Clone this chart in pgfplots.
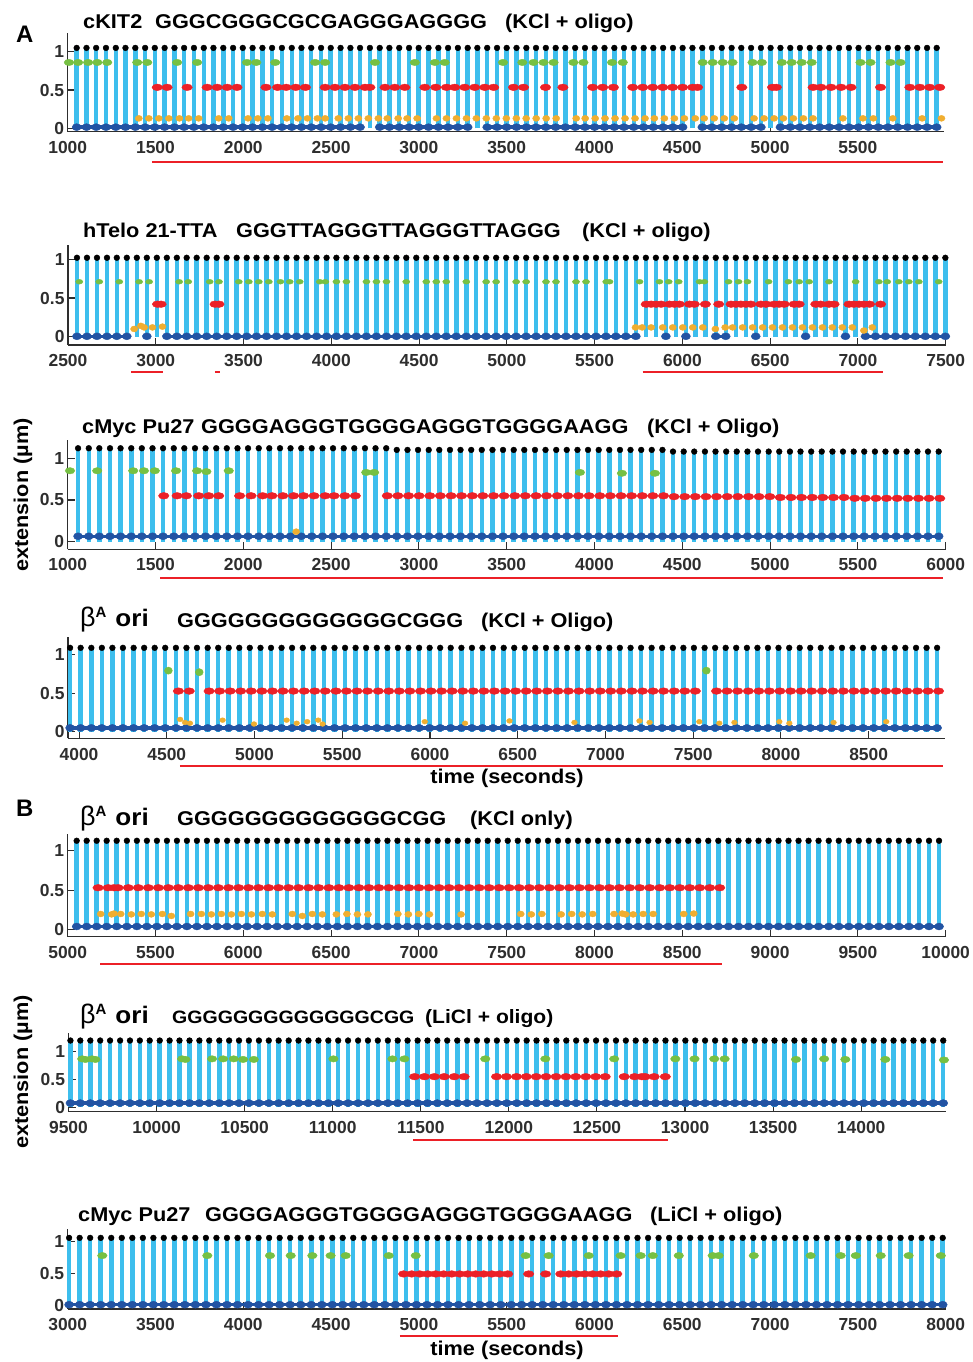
\documentclass[border=0pt]{standalone}
\usepackage{fontspec}
\setmainfont{Liberation Sans}
\newfontfamily\tfont[FakeStretch=1.09]{Liberation Sans}
\usepackage{pgfplots}
\usepackage{pgfplotstable}
\pgfplotsset{compat=1.18}
\definecolor{cy}{HTML}{3DBEED}
\definecolor{dbl}{HTML}{2253A3}
\definecolor{grn}{HTML}{76C043}
\definecolor{rd}{HTML}{EC2027}
\definecolor{org}{HTML}{F0AE30}
\definecolor{axc}{HTML}{2E2E2E}
\newcommand\TT{\tfont\bfseries\fontsize{20}{24}\selectfont}
\newcommand\BA{{\fontsize{27}{27}\selectfont β}\raisebox{9bp}{\bfseries\fontsize{15}{15}\selectfont A}\hspace{9bp}{\tfont\bfseries\fontsize{24}{24}\selectfont ori}}
\pgfplotsset{
  panel/.style={
    scale only axis, clip=false, anchor=south west,
    axis x line*=bottom, axis y line*=left,
    axis line style={axc, line width=1.1bp},
    tick align=inside, major tick length=7bp,
    tick style={axc, line width=1.1bp},
    ytick={0,0.5,1}, yticklabels={0,0.5,1},
    scaled x ticks=false,
    tick label style={font=\bfseries\fontsize{17.5}{17.5}\selectfont, text=axc},
    /pgf/number format/1000 sep={},
    /pgf/number format/assume math mode=true,
    xticklabel style={yshift=-6bp},
    unbounded coords=jump,
  },
  bars/.style={ycomb, draw=cy, line width=4.5bp, mark=none},
  band/.style={draw=dbl, line width=3.5bp, mark=none},
  bdots/.style={only marks, mark=*, color=dbl, mark size=3.5bp, mark options={xscale=1.3}},
  kdots/.style={only marks, mark=*, color=black, mark size=2.9bp},
  gdots/.style={only marks, mark=*, color=grn, mark size=3.2bp, mark options={xscale=1.5}},
  rdots/.style={only marks, mark=*, color=rd, mark size=3.3bp, mark options={xscale=1.6}},
  odots/.style={only marks, mark=*, color=org, mark size=3.0bp, mark options={xscale=1.2}},
  uline/.style={draw=rd, line width=1.6bp, mark=none},
}

\pgfplotstableread[row sep=\\]{t a b\\
1051 1.05 0.015\\ 1107 1.05 0.015\\ 1162 1.05 0.015\\ 1218 1.05 0.015\\ 1274 1.05 0.015\\ 1329 1.05 0.015\\
1385 1.05 0.015\\ 1441 1.05 0.015\\ 1496 1.05 0.015\\ 1552 1.05 0.015\\ 1608 1.05 0.015\\ 1663 1.05 0.015\\
1719 1.05 0.015\\ 1775 1.05 0.015\\ 1830 1.05 0.015\\ 1886 1.05 0.015\\ 1942 1.05 0.015\\ 1997 1.05 0.015\\
2053 1.05 0.015\\ 2109 1.05 0.015\\ 2164 1.05 0.015\\ 2220 1.05 0.015\\ 2276 1.05 0.015\\ 2331 1.05 0.015\\
2387 1.05 0.015\\ 2443 1.05 0.015\\ 2498 1.05 0.015\\ 2554 1.05 0.015\\ 2610 1.05 0.015\\ 2665 1.05 0.015\\
2721 1.05 nan\\ 2777 1.05 0.015\\ 2832 1.05 0.015\\ 2888 1.05 0.015\\ 2944 1.05 0.015\\ 2999 1.05 0.015\\
3055 1.05 0.015\\ 3111 1.05 0.015\\ 3166 1.05 0.015\\ 3222 1.05 0.015\\ 3278 1.05 0.015\\ 3333 1.05 nan\\
3389 1.05 0.015\\ 3445 1.05 0.015\\ 3500 1.05 0.015\\ 3556 1.05 0.015\\ 3612 1.05 0.015\\ 3667 1.05 0.015\\
3723 1.05 0.015\\ 3779 1.05 0.015\\ 3834 1.05 0.015\\ 3890 1.05 0.015\\ 3946 1.05 0.015\\ 4001 1.05 0.015\\
4057 1.05 0.015\\ 4113 1.05 0.015\\ 4168 1.05 0.015\\ 4224 1.05 0.015\\ 4280 1.05 0.015\\ 4335 1.05 0.015\\
4391 1.05 0.015\\ 4447 1.05 0.015\\ 4502 1.05 0.015\\ 4558 1.05 nan\\ 4614 1.05 0.015\\ 4669 1.05 0.015\\
4725 1.05 0.015\\ 4781 1.05 0.015\\ 4836 1.05 0.015\\ 4892 1.05 0.015\\ 4948 1.05 0.015\\ 5003 1.05 nan\\
5059 1.05 0.015\\ 5115 1.05 0.015\\ 5170 1.05 0.015\\ 5226 1.05 0.015\\ 5282 1.05 0.015\\ 5337 1.05 0.015\\
5393 1.05 0.015\\ 5449 1.05 0.015\\ 5504 1.05 0.015\\ 5560 1.05 0.015\\ 5616 1.05 0.015\\ 5671 1.05 0.015\\
5727 1.05 0.015\\ 5783 1.05 0.015\\ 5838 1.05 0.015\\ 5894 1.05 0.015\\ 5949 1.05 0.015\\
}\Pone

\pgfplotstableread[row sep=\\]{t a b\\
2551 1.02 0.005\\ 2608 1.02 0.005\\ 2665 1.02 0.005\\ 2722 1.02 0.005\\ 2778 1.02 0.005\\ 2835 1.02 0.005\\
2892 1.02 nan\\ 2949 1.02 0.005\\ 3006 1.02 nan\\ 3063 1.02 0.005\\ 3120 1.02 0.005\\ 3176 1.02 0.005\\
3233 1.02 0.005\\ 3290 1.02 0.005\\ 3347 1.02 0.005\\ 3404 1.02 0.005\\ 3461 1.02 0.005\\ 3518 1.02 0.005\\
3574 1.02 0.005\\ 3631 1.02 0.005\\ 3688 1.02 0.005\\ 3745 1.02 0.005\\ 3802 1.02 0.005\\ 3859 1.02 0.005\\
3916 1.02 0.005\\ 3973 1.02 0.005\\ 4029 1.02 0.005\\ 4086 1.02 0.005\\ 4143 1.02 0.005\\ 4200 1.02 0.005\\
4257 1.02 0.005\\ 4314 1.02 0.005\\ 4371 1.02 0.005\\ 4427 1.02 0.005\\ 4484 1.02 0.005\\ 4541 1.02 0.005\\
4598 1.02 0.005\\ 4655 1.02 0.005\\ 4712 1.02 0.005\\ 4769 1.02 0.005\\ 4825 1.02 0.005\\ 4882 1.02 0.005\\
4939 1.02 0.005\\ 4996 1.02 0.005\\ 5053 1.02 0.005\\ 5110 1.02 0.005\\ 5167 1.02 0.005\\ 5223 1.02 0.005\\
5280 1.02 0.005\\ 5337 1.02 0.005\\ 5394 1.02 0.005\\ 5451 1.02 0.005\\ 5508 1.02 0.005\\ 5565 1.02 0.005\\
5621 1.02 0.005\\ 5678 1.02 0.005\\ 5735 1.02 0.005\\ 5792 1.02 nan\\ 5849 1.02 nan\\ 5906 1.02 0.005\\
5963 1.02 nan\\ 6020 1.02 0.005\\ 6076 1.02 nan\\ 6133 1.02 nan\\ 6190 1.02 0.005\\ 6247 1.02 0.005\\
6304 1.02 nan\\ 6361 1.02 nan\\ 6418 1.02 0.005\\ 6474 1.02 nan\\ 6531 1.02 nan\\ 6588 1.02 nan\\
6645 1.02 nan\\ 6702 1.02 0.005\\ 6759 1.02 nan\\ 6816 1.02 nan\\ 6873 1.02 nan\\ 6929 1.02 0.005\\
6986 1.02 nan\\ 7043 1.02 0.005\\ 7100 1.02 0.005\\ 7157 1.02 0.005\\ 7214 1.02 0.005\\ 7271 1.02 0.005\\
7327 1.02 0.005\\ 7384 1.02 0.005\\ 7441 1.02 0.005\\ 7498 1.02 0.005\\
}\Ptwo

\pgfplotstableread[row sep=\\]{t a b\\
1059 1.12 0.065\\ 1120 1.12 0.065\\ 1180 1.12 0.065\\ 1241 1.12 0.065\\ 1301 1.12 0.065\\ 1362 1.12 0.065\\
1422 1.12 0.065\\ 1483 1.12 0.065\\ 1543 1.12 0.065\\ 1604 1.12 0.065\\ 1664 1.12 0.065\\ 1725 1.12 0.065\\
1785 1.12 0.065\\ 1846 1.12 0.065\\ 1906 1.12 0.065\\ 1967 1.12 0.065\\ 2027 1.12 0.065\\ 2088 1.12 0.065\\
2148 1.12 0.065\\ 2209 1.12 0.065\\ 2269 1.12 0.065\\ 2330 1.12 0.065\\ 2390 1.12 0.065\\ 2451 1.12 0.065\\
2511 1.12 0.065\\ 2572 1.12 0.065\\ 2632 1.12 0.065\\ 2693 1.12 0.065\\ 2753 1.12 0.065\\ 2814 1.12 0.065\\
2874 1.10 0.065\\ 2935 1.10 0.065\\ 2995 1.10 0.065\\ 3056 1.10 0.065\\ 3116 1.10 0.065\\ 3177 1.10 0.065\\
3237 1.10 0.065\\ 3298 1.10 0.065\\ 3358 1.10 0.065\\ 3419 1.10 0.065\\ 3479 1.10 0.065\\ 3540 1.10 0.065\\
3600 1.10 0.065\\ 3661 1.10 0.065\\ 3721 1.10 0.065\\ 3782 1.10 0.065\\ 3842 1.10 0.065\\ 3903 1.10 0.065\\
3963 1.10 0.065\\ 4024 1.10 0.065\\ 4084 1.10 0.065\\ 4145 1.10 0.065\\ 4205 1.10 0.065\\ 4266 1.10 0.065\\
4326 1.10 0.065\\ 4387 1.10 0.065\\ 4447 1.08 0.065\\ 4508 1.08 0.065\\ 4568 1.08 0.065\\ 4629 1.08 0.065\\
4689 1.08 0.065\\ 4750 1.08 0.065\\ 4810 1.08 0.065\\ 4871 1.08 0.065\\ 4931 1.08 0.065\\ 4992 1.08 0.065\\
5052 1.08 0.065\\ 5113 1.08 0.065\\ 5173 1.08 0.065\\ 5234 1.08 0.065\\ 5294 1.08 0.065\\ 5355 1.08 0.065\\
5415 1.08 0.065\\ 5476 1.08 0.065\\ 5536 1.08 0.065\\ 5597 1.08 0.065\\ 5657 1.08 0.065\\ 5718 1.08 0.065\\
5778 1.08 0.065\\ 5839 1.08 0.065\\ 5899 1.08 0.065\\ 5960 1.08 0.065\\
}\Pthree

\pgfplotstableread[row sep=\\]{t a b\\
3949 1.085 0.05\\ 4009 1.085 0.05\\ 4070 1.085 0.05\\ 4130 1.085 0.05\\ 4190 1.085 0.05\\ 4250 1.085 0.05\\
4311 1.085 0.05\\ 4371 1.085 0.05\\ 4431 1.085 0.05\\ 4491 1.085 0.05\\ 4552 1.085 0.05\\ 4612 1.085 0.05\\
4672 1.085 0.05\\ 4733 1.085 0.05\\ 4793 1.085 0.05\\ 4853 1.085 0.05\\ 4913 1.085 0.05\\ 4973 1.085 0.05\\
5034 1.085 0.05\\ 5094 1.085 0.05\\ 5154 1.085 0.05\\ 5214 1.085 0.05\\ 5275 1.085 0.05\\ 5335 1.085 0.05\\
5395 1.085 0.05\\ 5456 1.085 0.05\\ 5516 1.085 0.05\\ 5576 1.085 0.05\\ 5636 1.085 0.05\\ 5697 1.085 0.05\\
5757 1.085 0.05\\ 5817 1.085 0.05\\ 5877 1.085 0.05\\ 5938 1.085 0.05\\ 5998 1.085 0.05\\ 6058 1.085 0.05\\
6118 1.085 0.05\\ 6179 1.085 0.05\\ 6239 1.085 0.05\\ 6299 1.085 0.05\\ 6359 1.085 0.05\\ 6420 1.085 0.05\\
6480 1.085 0.05\\ 6540 1.085 0.05\\ 6600 1.085 0.05\\ 6661 1.085 0.05\\ 6721 1.085 0.05\\ 6781 1.085 0.05\\
6841 1.085 0.05\\ 6902 1.085 0.05\\ 6962 1.085 0.05\\ 7022 1.085 0.05\\ 7082 1.085 0.05\\ 7143 1.085 0.05\\
7203 1.085 0.05\\ 7263 1.085 0.05\\ 7323 1.085 0.05\\ 7384 1.085 0.05\\ 7444 1.085 0.05\\ 7504 1.085 0.05\\
7565 1.085 0.05\\ 7625 1.085 0.05\\ 7685 1.085 0.05\\ 7745 1.085 0.05\\ 7806 1.085 0.05\\ 7866 1.085 0.05\\
7926 1.085 0.05\\ 7986 1.085 0.05\\ 8047 1.085 0.05\\ 8107 1.085 0.05\\ 8167 1.085 0.05\\ 8227 1.085 0.05\\
8288 1.085 0.05\\ 8348 1.085 0.05\\ 8408 1.085 0.05\\ 8468 1.085 0.05\\ 8529 1.085 0.05\\ 8589 1.085 0.05\\
8649 1.085 0.05\\ 8709 1.085 0.05\\ 8770 1.085 0.05\\ 8830 1.085 0.05\\ 8890 1.085 0.05\\
}\Pfour

\pgfplotstableread[row sep=\\]{t a b\\
5051 1.13 0.035\\ 5108 1.13 0.035\\ 5165 1.13 0.035\\ 5222 1.13 0.035\\ 5279 1.13 0.035\\ 5337 1.13 0.035\\
5394 1.13 0.035\\ 5451 1.13 0.035\\ 5508 1.13 0.035\\ 5565 1.13 0.035\\ 5622 1.13 0.035\\ 5679 1.13 0.035\\
5736 1.13 0.035\\ 5793 1.13 0.035\\ 5850 1.13 0.035\\ 5908 1.13 0.035\\ 5965 1.13 0.035\\ 6022 1.13 0.035\\
6079 1.13 0.035\\ 6136 1.13 0.035\\ 6193 1.13 0.035\\ 6250 1.13 0.035\\ 6307 1.13 0.035\\ 6364 1.13 0.035\\
6421 1.13 0.035\\ 6479 1.13 0.035\\ 6536 1.13 0.035\\ 6593 1.13 0.035\\ 6650 1.13 0.035\\ 6707 1.13 0.035\\
6764 1.13 0.035\\ 6821 1.13 0.035\\ 6878 1.13 0.035\\ 6935 1.13 0.035\\ 6992 1.13 0.035\\ 7050 1.13 0.035\\
7107 1.13 0.035\\ 7164 1.13 0.035\\ 7221 1.13 0.035\\ 7278 1.13 0.035\\ 7335 1.13 0.035\\ 7392 1.13 0.035\\
7449 1.13 0.035\\ 7506 1.13 0.035\\ 7563 1.13 0.035\\ 7621 1.13 0.035\\ 7678 1.13 0.035\\ 7735 1.13 0.035\\
7792 1.13 0.035\\ 7849 1.13 0.035\\ 7906 1.13 0.035\\ 7963 1.13 0.035\\ 8020 1.13 0.035\\ 8077 1.13 0.035\\
8134 1.13 0.035\\ 8192 1.13 0.035\\ 8249 1.13 0.035\\ 8306 1.13 0.035\\ 8363 1.13 0.035\\ 8420 1.13 0.035\\
8477 1.13 0.035\\ 8534 1.13 0.035\\ 8591 1.13 0.035\\ 8648 1.13 0.035\\ 8705 1.13 0.035\\ 8763 1.13 0.035\\
8820 1.13 0.035\\ 8877 1.13 0.035\\ 8934 1.13 0.035\\ 8991 1.13 0.035\\ 9048 1.13 0.035\\ 9105 1.13 0.035\\
9162 1.13 0.035\\ 9219 1.13 0.035\\ 9276 1.13 0.035\\ 9334 1.13 0.035\\ 9391 1.13 0.035\\ 9448 1.13 0.035\\
9505 1.13 0.035\\ 9562 1.13 0.035\\ 9619 1.13 0.035\\ 9676 1.13 0.035\\ 9733 1.13 0.035\\ 9790 1.13 0.035\\
9847 1.13 0.035\\ 9905 1.13 0.035\\ 9962 1.13 0.035\\
}\Pfive

\pgfplotstableread[row sep=\\]{t a b\\
9511 1.2 0.075\\ 9567 1.2 0.075\\ 9624 1.2 0.075\\ 9680 1.2 0.075\\ 9736 1.2 0.075\\ 9793 1.2 0.075\\
9849 1.2 0.075\\ 9905 1.2 0.075\\ 9961 1.2 0.075\\ 10018 1.2 0.075\\ 10074 1.2 0.075\\ 10130 1.2 0.075\\
10187 1.2 0.075\\ 10243 1.2 0.075\\ 10299 1.2 0.075\\ 10356 1.2 0.075\\ 10412 1.2 0.075\\ 10468 1.2 0.075\\
10524 1.2 0.075\\ 10581 1.2 0.075\\ 10637 1.2 0.075\\ 10693 1.2 0.075\\ 10750 1.2 0.075\\ 10806 1.2 0.075\\
10862 1.2 0.075\\ 10919 1.2 0.075\\ 10975 1.2 0.075\\ 11031 1.2 0.075\\ 11087 1.2 0.075\\ 11144 1.2 0.075\\
11200 1.2 0.075\\ 11256 1.2 0.075\\ 11313 1.2 0.075\\ 11369 1.2 0.075\\ 11425 1.2 0.075\\ 11482 1.2 0.075\\
11538 1.2 0.075\\ 11594 1.2 0.075\\ 11650 1.2 0.075\\ 11707 1.2 0.075\\ 11763 1.2 0.075\\ 11819 1.2 0.075\\
11876 1.2 0.075\\ 11932 1.2 0.075\\ 11988 1.2 0.075\\ 12045 1.2 0.075\\ 12101 1.2 0.075\\ 12157 1.2 0.075\\
12213 1.2 0.075\\ 12270 1.2 0.075\\ 12326 1.2 0.075\\ 12382 1.2 0.075\\ 12439 1.2 0.075\\ 12495 1.2 0.075\\
12551 1.2 0.075\\ 12608 1.2 0.075\\ 12664 1.2 0.075\\ 12720 1.2 0.075\\ 12776 1.2 0.075\\ 12833 1.2 0.075\\
12889 1.2 0.075\\ 12945 1.2 0.075\\ 13002 1.2 0.075\\ 13058 1.2 0.075\\ 13114 1.2 0.075\\ 13171 1.2 0.075\\
13227 1.2 0.075\\ 13283 1.2 0.075\\ 13339 1.2 0.075\\ 13396 1.2 0.075\\ 13452 1.2 0.075\\ 13508 1.2 0.075\\
13565 1.2 0.075\\ 13621 1.2 0.075\\ 13677 1.2 0.075\\ 13734 1.2 0.075\\ 13790 1.2 0.075\\ 13846 1.2 0.075\\
13902 1.2 0.075\\ 13959 1.2 0.075\\ 14015 1.2 0.075\\ 14071 1.2 0.075\\ 14128 1.2 0.075\\ 14184 1.2 0.075\\
14240 1.2 0.075\\ 14297 1.2 0.075\\ 14353 1.2 0.075\\ 14409 1.2 0.075\\ 14466 1.2 0.075\\
}\Psix

\pgfplotstableread[row sep=\\]{t a b\\
3008 1.06 0.005\\ 3068 1.06 0.005\\ 3128 1.06 0.005\\ 3188 1.06 0.005\\ 3248 1.06 0.005\\ 3308 1.06 0.005\\
3368 1.06 0.005\\ 3428 1.06 0.005\\ 3488 1.06 0.005\\ 3547 1.06 0.005\\ 3607 1.06 0.005\\ 3667 1.06 0.005\\
3727 1.06 0.005\\ 3787 1.06 0.005\\ 3847 1.06 0.005\\ 3907 1.06 0.005\\ 3967 1.06 0.005\\ 4027 1.06 0.005\\
4087 1.06 0.005\\ 4147 1.06 0.005\\ 4207 1.06 0.005\\ 4267 1.06 0.005\\ 4327 1.06 0.005\\ 4387 1.06 0.005\\
4447 1.06 0.005\\ 4507 1.06 0.005\\ 4566 1.06 0.005\\ 4626 1.06 0.005\\ 4686 1.06 0.005\\ 4746 1.06 0.005\\
4806 1.06 0.005\\ 4866 1.06 0.005\\ 4926 1.06 0.005\\ 4986 1.06 0.005\\ 5046 1.06 0.005\\ 5106 1.06 0.005\\
5166 1.06 0.005\\ 5226 1.06 0.005\\ 5286 1.06 0.005\\ 5346 1.06 0.005\\ 5406 1.06 0.005\\ 5466 1.06 0.005\\
5526 1.06 0.005\\ 5585 1.06 0.005\\ 5645 1.06 0.005\\ 5705 1.06 0.005\\ 5765 1.06 0.005\\ 5825 1.06 0.005\\
5885 1.06 0.005\\ 5945 1.06 0.005\\ 6005 1.06 0.005\\ 6065 1.06 0.005\\ 6125 1.06 0.005\\ 6185 1.06 0.005\\
6245 1.06 0.005\\ 6305 1.06 0.005\\ 6365 1.06 0.005\\ 6425 1.06 0.005\\ 6485 1.06 0.005\\ 6545 1.06 0.005\\
6604 1.06 0.005\\ 6664 1.06 0.005\\ 6724 1.06 0.005\\ 6784 1.06 0.005\\ 6844 1.06 0.005\\ 6904 1.06 0.005\\
6964 1.06 0.005\\ 7024 1.06 0.005\\ 7084 1.06 0.005\\ 7144 1.06 0.005\\ 7204 1.06 0.005\\ 7264 1.06 0.005\\
7324 1.06 0.005\\ 7384 1.06 0.005\\ 7444 1.06 0.005\\ 7504 1.06 0.005\\ 7564 1.06 0.005\\ 7623 1.06 0.005\\
7683 1.06 0.005\\ 7743 1.06 0.005\\ 7803 1.06 0.005\\ 7863 1.06 0.005\\ 7923 1.06 0.005\\ 7983 1.06 0.005\\
}\Pseven

\begin{document}
\begin{tikzpicture}
\useasboundingbox (0,0) rectangle (973bp,1362bp);

% ---------- Panel 1 ----------
\begin{axis}[panel, at={(67.7bp,1230.3bp)}, width=876.2bp, height=99.1bp,
  xmin=1000, xmax=5990, ymin=-0.044, ymax=1.25, xtick={1000,1500,...,5500}]
\addplot[bars] table[x=t,y=a]{\Pone};
\addplot[band] table[x=t,y=b]{\Pone};
\addplot[bdots] table[x=t,y=b]{\Pone};
\addplot[odots] coordinates {(1405,0.13)(1462,0.13)(1519,0.13)(1576,0.13)(1636,0.13)(1689,0.13)(1746,0.13)(1860,0.13)(1917,0.13)(2027,0.13)(2083,0.13)(2140,0.13)(2248,0.13)(2311,0.13)(2365,0.13)(2422,0.13)(2466,0.13)(2541,0.13)(2598,0.13)(2655,0.13)(2712,0.13)(2769,0.13)(2820,0.13)(2882,0.13)(2933,0.13)(2990,0.13)(3100,0.13)(3157,0.13)(3214,0.13)(3271,0.13)(3327,0.13)(3384,0.13)(3441,0.13)(3498,0.13)(3555,0.13)(3611,0.13)(3668,0.13)(3725,0.13)(3782,0.13)(3896,0.13)(3947,0.13)(4004,0.13)(4060,0.13)(4117,0.13)(4174,0.13)(4231,0.13)(4288,0.13)(4341,0.13)(4398,0.13)(4455,0.13)(4512,0.13)(4574,0.13)(4625,0.13)(4682,0.13)(4739,0.13)(4796,0.13)(4909,0.13)(4966,0.13)(5023,0.13)(5076,0.13)(5133,0.13)(5190,0.13)(5245,0.13)(5415,0.13)(5529,0.13)(5588,0.13)(5699,0.13)(5866,0.13)(5976,0.13)};
\addplot[rdots] coordinates {(1510,0.535)(1566,0.535)(1680,0.535)(1794,0.535)(1851,0.535)(1908,0.535)(1964,0.535)(2129,0.535)(2195,0.535)(2244,0.535)(2299,0.535)(2354,0.535)(2466,0.535)(2522,0.535)(2579,0.535)(2636,0.535)(2693,0.535)(2721,0.535)(2807,0.535)(2863,0.535)(2920,0.535)(3034,0.535)(3096,0.535)(3157,0.535)(3204,0.535)(3261,0.535)(3318,0.535)(3375,0.535)(3426,0.535)(3539,0.535)(3596,0.535)(3721,0.535)(3820,0.535)(3990,0.535)(4047,0.535)(4108,0.535)(4218,0.535)(4275,0.535)(4332,0.535)(4389,0.535)(4445,0.535)(4502,0.535)(4559,0.535)(4587,0.535)(4839,0.535)(5014,0.535)(5036,0.535)(5245,0.535)(5290,0.535)(5347,0.535)(5404,0.535)(5461,0.535)(5629,0.535)(5796,0.535)(5853,0.535)(5909,0.535)(5966,0.535)};
\addplot[gdots] coordinates {(1007,0.86)(1059,0.86)(1116,0.86)(1169,0.86)(1225,0.86)(1396,0.86)(1453,0.86)(1623,0.86)(1737,0.86)(2021,0.86)(2074,0.86)(2182,0.86)(2409,0.86)(2466,0.86)(2750,0.86)(2977,0.86)(3091,0.86)(3147,0.86)(3479,0.86)(3589,0.86)(3653,0.86)(3710,0.86)(3767,0.86)(3880,0.86)(3937,0.86)(4100,0.86)(4161,0.86)(4616,0.86)(4673,0.86)(4730,0.86)(4786,0.86)(4900,0.86)(4953,0.86)(5067,0.86)(5123,0.86)(5180,0.86)(5237,0.86)(5515,0.86)(5572,0.86)(5686,0.86)(5743,0.86)};
\addplot[kdots] table[x=t,y=a]{\Pone};
\addplot[uline] coordinates {(1480,-0.44)(5986,-0.44)};
\end{axis}

% ---------- Panel 2 ----------
\begin{axis}[panel, at={(68bp,1017bp)}, width=877.7bp, height=100bp,
  xmin=2500, xmax=7500, ymin=-0.107, ymax=1.185, xtick={2500,3000,...,7500}]
\addplot[bars] table[x=t,y=a]{\Ptwo};
\addplot[band] table[x=t,y=b]{\Ptwo};
\addplot[bdots] table[x=t,y=b]{\Ptwo};
\addplot[odots] coordinates {(2877,0.1)(2915,0.14)(2934,0.12)(2981,0.12)(3038,0.13)(5733,0.12)(5771,0.12)(5822,0.12)(5888,0.12)(5945,0.12)(6002,0.12)(6059,0.12)(6116,0.12)(6188,0.1)(6244,0.12)(6286,0.12)(6343,0.12)(6400,0.12)(6457,0.12)(6513,0.12)(6570,0.12)(6627,0.12)(6684,0.12)(6741,0.12)(6798,0.12)(6854,0.12)(6911,0.12)(6968,0.12)(7034,0.08)(7082,0.12)};
\addplot[rdots] coordinates {(3010,0.42)(3030,0.42)(3338,0.42)(3360,0.42)(5794,0.42)(5822,0.42)(5850,0.42)(5879,0.42)(5926,0.42)(5955,0.42)(5983,0.42)(6040,0.42)(6068,0.42)(6131,0.42)(6207,0.42)(6277,0.42)(6305,0.42)(6333,0.42)(6362,0.42)(6390,0.42)(6447,0.42)(6476,0.42)(6523,0.42)(6551,0.42)(6580,0.42)(6637,0.42)(6665,0.42)(6760,0.42)(6788,0.42)(6835,0.42)(6864,0.42)(6949,0.42)(6977,0.42)(7006,0.42)(7034,0.42)(7066,0.42)(7129,0.42)};
\addplot[gdots, mark size=2.4bp] coordinates {(2564,0.71)(2678,0.71)(2792,0.71)(2905,0.71)(2962,0.71)(3133,0.71)(3185,0.71)(3307,0.71)(3360,0.71)(3473,0.71)(3530,0.71)(3587,0.71)(3644,0.71)(3710,0.71)(3763,0.71)(3820,0.71)(3934,0.71)(3966,0.71)(4029,0.71)(4086,0.71)(4200,0.71)(4257,0.71)(4314,0.71)(4427,0.71)(4541,0.71)(4598,0.71)(4655,0.71)(4769,0.71)(4882,0.71)(4939,0.71)(5053,0.71)(5110,0.71)(5223,0.71)(5280,0.71)(5394,0.71)(5451,0.71)(5566,0.71)(5585,0.71)(5756,0.71)(5869,0.71)(5922,0.71)(5979,0.71)(6097,0.71)(6125,0.71)(6263,0.71)(6320,0.71)(6371,0.71)(6491,0.71)(6604,0.71)(6665,0.71)(6722,0.71)(6835,0.71)(6987,0.71)(7119,0.71)(7167,0.71)(7233,0.71)(7290,0.71)(7347,0.71)(7460,0.71)};
\addplot[kdots] table[x=t,y=a]{\Ptwo};
\addplot[uline] coordinates {(2859,-0.456)(3041,-0.456)};
\addplot[uline] coordinates {(3337,-0.456)(3366,-0.456)};
\addplot[uline] coordinates {(5774,-0.456)(7141,-0.456)};
\end{axis}

% ---------- Panel 3 ----------
\begin{axis}[panel, at={(67.7bp,812.8bp)}, width=878bp, height=109.3bp,
  xmin=1000, xmax=6000, ymin=-0.09, ymax=1.22, xtick={1000,1500,...,6000}]
\addplot[bars] table[x=t,y=a]{\Pthree};
\addplot[band] table[x=t,y=b]{\Pthree};
\addplot[bdots] table[x=t,y=b]{\Pthree};
\addplot[odots] coordinates {(2301,0.12)};
\addplot[rdots] coordinates {(1547,0.55)(1623,0.55)(1676,0.55)(1746,0.55)(1803,0.55)(1860,0.55)(1979,0.55)(2044,0.55)(2110,0.55)(2163,0.55)(2225,0.55)(2286,0.55)(2343,0.55)(2403,0.55)(2466,0.55)(2517,0.55)(2578,0.55)(2638,0.55)(2820,0.55)(2880,0.55)(2941,0.55)(3001,0.55)(3062,0.55)(3122,0.55)(3183,0.55)(3243,0.55)(3304,0.55)(3364,0.55)(3425,0.55)(3485,0.55)(3546,0.55)(3606,0.55)(3667,0.55)(3727,0.55)(3788,0.55)(3848,0.55)(3909,0.55)(3969,0.55)(4030,0.55)(4090,0.55)(4151,0.55)(4211,0.55)(4272,0.55)(4332,0.55)(4393,0.55)(4453,0.54)(4514,0.54)(4574,0.54)(4635,0.54)(4695,0.54)(4756,0.54)(4816,0.54)(4877,0.54)(4937,0.54)(4998,0.54)(5058,0.53)(5119,0.53)(5179,0.53)(5240,0.53)(5300,0.53)(5361,0.53)(5421,0.53)(5482,0.52)(5542,0.52)(5603,0.52)(5663,0.52)(5724,0.52)(5784,0.52)(5845,0.52)(5905,0.52)(5966,0.52)};
\addplot[gdots] coordinates {(1013,0.85)(1168,0.85)(1373,0.85)(1434,0.85)(1496,0.85)(1617,0.85)(1737,0.85)(1790,0.84)(1917,0.85)(2700,0.83)(2745,0.83)(3917,0.83)(4156,0.82)(4344,0.82)};
\addplot[kdots] table[x=t,y=a]{\Pthree};
\addplot[uline] coordinates {(1526,-0.435)(5985,-0.435)};
\end{axis}

% ---------- Panel 4 ----------
\begin{axis}[panel, at={(68bp,623.6bp)}, width=877bp, height=101bp,
  xmin=3937, xmax=8935, ymin=-0.086, ymax=1.22, xtick={4000,4500,...,8500}]
\addplot[bars] table[x=t,y=a]{\Pfour};
\addplot[band] table[x=t,y=b]{\Pfour};
\addplot[bdots] table[x=t,y=b]{\Pfour};
\addplot[odots, mark size=2.4bp] coordinates {(4576,0.16)(4604,0.12)(4632,0.11)(4818,0.15)(4997,0.1)(5183,0.15)(5240,0.11)(5300,0.13)(5363,0.15)(5388,0.1)(5970,0.13)(6200,0.11)(6453,0.14)(6823,0.12)(7194,0.14)(7251,0.12)(7535,0.13)(7649,0.11)(7735,0.12)(7991,0.13)(8048,0.11)(8300,0.12)(8600,0.13)};
\addplot[rdots] coordinates {(4566,0.526)(4628,0.526)(4741,0.526)(4801,0.526)(4861,0.526)(4921,0.526)(4981,0.526)(5042,0.526)(5102,0.526)(5162,0.526)(5222,0.526)(5283,0.526)(5343,0.526)(5403,0.526)(5464,0.526)(5524,0.526)(5584,0.526)(5644,0.526)(5705,0.526)(5765,0.526)(5825,0.526)(5885,0.526)(5946,0.526)(6006,0.526)(6066,0.526)(6126,0.526)(6187,0.526)(6247,0.526)(6307,0.526)(6367,0.526)(6428,0.526)(6488,0.526)(6548,0.526)(6608,0.526)(6669,0.526)(6729,0.526)(6789,0.526)(6849,0.526)(6910,0.526)(6970,0.526)(7030,0.526)(7090,0.526)(7151,0.526)(7211,0.526)(7271,0.526)(7331,0.526)(7392,0.526)(7452,0.526)(7512,0.526)(7633,0.526)(7693,0.526)(7753,0.526)(7814,0.526)(7874,0.526)(7934,0.526)(7994,0.526)(8055,0.526)(8115,0.526)(8175,0.526)(8235,0.526)(8296,0.526)(8356,0.526)(8416,0.526)(8476,0.526)(8537,0.526)(8597,0.526)(8657,0.526)(8717,0.526)(8778,0.526)(8838,0.526)(8898,0.526)};
\addplot[gdots, mark size=3.6bp, mark options={xscale=1.1}] coordinates {(4509,0.79)(4685,0.77)(7575,0.79)};
\addplot[kdots] table[x=t,y=a]{\Pfour};
\addplot[uline] coordinates {(4575,-0.443)(8923,-0.443)};
\end{axis}

% ---------- Panel 5 ----------
\begin{axis}[panel, at={(67.7bp,425.3bp)}, width=878bp, height=103bp,
  xmin=5000, xmax=10000, ymin=-0.095, ymax=1.22, xtick={5000,5500,...,10000}]
\addplot[bars] table[x=t,y=a]{\Pfive};
\addplot[band] table[x=t,y=b]{\Pfive};
\addplot[bdots] table[x=t,y=b]{\Pfive};
\addplot[odots] coordinates {(5188,0.195)(5250,0.19)(5263,0.2)(5302,0.195)(5362,0.19)(5419,0.195)(5476,0.19)(5539,0.195)(5590,0.17)(5700,0.195)(5761,0.195)(5818,0.19)(5875,0.195)(5932,0.19)(5989,0.195)(6046,0.19)(6108,0.195)(6165,0.19)(6279,0.195)(6336,0.17)(6393,0.195)(6450,0.19)(6530,0.19)(6590,0.195)(6650,0.19)(6710,0.19)(6880,0.195)(6940,0.19)(7000,0.195)(7060,0.19)(7240,0.19)(7580,0.195)(7640,0.19)(7700,0.195)(7810,0.19)(7870,0.195)(7930,0.19)(7990,0.195)(8111,0.195)(8158,0.2)(8177,0.19)(8220,0.19)(8277,0.195)(8334,0.195)(8508,0.195)(8565,0.2)};
\addplot[rdots] coordinates {(5173,0.53)(5230,0.53)(5263,0.53)(5287,0.53)(5345,0.53)(5402,0.53)(5459,0.53)(5516,0.53)(5573,0.53)(5630,0.53)(5687,0.53)(5744,0.53)(5801,0.53)(5858,0.53)(5916,0.53)(5973,0.53)(6030,0.53)(6087,0.53)(6144,0.53)(6201,0.53)(6258,0.53)(6315,0.53)(6372,0.53)(6429,0.53)(6487,0.53)(6544,0.53)(6601,0.53)(6658,0.53)(6715,0.53)(6772,0.53)(6829,0.53)(6886,0.53)(6943,0.53)(7000,0.53)(7058,0.53)(7115,0.53)(7172,0.53)(7229,0.53)(7286,0.53)(7343,0.53)(7400,0.53)(7457,0.53)(7514,0.53)(7571,0.53)(7629,0.53)(7686,0.53)(7743,0.53)(7800,0.53)(7857,0.53)(7914,0.53)(7971,0.53)(8028,0.53)(8085,0.53)(8142,0.53)(8200,0.53)(8257,0.53)(8314,0.53)(8371,0.53)(8428,0.53)(8485,0.53)(8542,0.53)(8599,0.53)(8656,0.53)(8713,0.53)};
\addplot[kdots] table[x=t,y=a]{\Pfive};
\addplot[uline] coordinates {(5184,-0.443)(8726,-0.443)};
\end{axis}

% ---------- Panel 6 ----------
\begin{axis}[panel, at={(68.5bp,250.3bp)}, width=877.2bp, height=78.4bp,
  xmin=9500, xmax=14480, ymin=-0.08, ymax=1.33, xtick={9500,10000,...,14000}]
\addplot[bars] table[x=t,y=a]{\Psix};
\addplot[band] table[x=t,y=b]{\Psix};
\addplot[bdots] table[x=t,y=b]{\Psix};
\addplot[rdots] coordinates {(11465,0.55)(11521,0.55)(11577,0.55)(11633,0.55)(11690,0.55)(11746,0.55)(11930,0.55)(11986,0.55)(12043,0.55)(12099,0.55)(12155,0.55)(12211,0.55)(12268,0.55)(12324,0.55)(12380,0.55)(12437,0.55)(12493,0.55)(12547,0.55)(12655,0.55)(12714,0.55)(12755,0.55)(12774,0.55)(12825,0.55)(12888,0.55)};
\addplot[gdots] coordinates {(9578,0.87)(9596,0.86)(9634,0.87)(9653,0.86)(10145,0.87)(10164,0.86)(10315,0.87)(10378,0.87)(10438,0.87)(10491,0.86)(10552,0.86)(11004,0.87)(11339,0.87)(11407,0.87)(11866,0.87)(12207,0.87)(12598,0.87)(12945,0.87)(13054,0.87)(13166,0.87)(13225,0.87)(13630,0.86)(13790,0.87)(13910,0.86)(14137,0.86)(14470,0.85)};
\addplot[kdots] table[x=t,y=a]{\Psix};
\addplot[uline] coordinates {(11456,-0.588)(12904,-0.588)};
\end{axis}

% ---------- Panel 7 ----------
\begin{axis}[panel, at={(67.7bp,53bp)}, width=878bp, height=80bp,
  xmin=3000, xmax=8000, ymin=-0.063, ymax=1.2, xtick={3000,3500,...,8000}]
\addplot[bars] table[x=t,y=a]{\Pseven};
\addplot[band] table[x=t,y=b]{\Pseven};
\addplot[bdots] table[x=t,y=b]{\Pseven};
\addplot[rdots] coordinates {(4913,0.49)(4959,0.49)(5005,0.49)(5050,0.49)(5096,0.49)(5141,0.49)(5187,0.49)(5232,0.49)(5278,0.49)(5324,0.49)(5369,0.49)(5415,0.49)(5460,0.49)(5506,0.49)(5625,0.49)(5722,0.49)(5808,0.49)(5853,0.49)(5899,0.49)(5944,0.49)(5990,0.49)(6035,0.49)(6081,0.49)(6127,0.49)};
\addplot[gdots] coordinates {(3197,0.78)(3795,0.78)(4152,0.78)(4270,0.78)(4393,0.78)(4497,0.78)(4583,0.78)(4828,0.78)(4982,0.78)(5608,0.78)(5739,0.78)(5967,0.78)(6149,0.78)(6263,0.78)(6332,0.78)(6480,0.78)(6673,0.78)(6707,0.78)(6907,0.78)(7231,0.78)(7402,0.78)(7488,0.78)(7630,0.78)(7789,0.78)(7972,0.78)};
\addplot[kdots] table[x=t,y=a]{\Pseven};
\addplot[uline] coordinates {(4892,-0.49)(6134,-0.49)};
\end{axis}

% ---------- Texts ----------
\node[anchor=base west, inner sep=0] at (16bp,1319.7bp) {\bfseries\fontsize{24}{24}\selectfont A};
\node[anchor=base west, inner sep=0] at (16bp,545.3bp) {\bfseries\fontsize{24}{24}\selectfont B};

\node[anchor=base west, inner sep=0] at (83bp,1333.7bp) {\TT cKIT2};
\node[anchor=base west, inner sep=0] at (155bp,1333.7bp) {\TT GGGCGGGCGCGAGGGAGGGG};
\node[anchor=base west, inner sep=0] at (505bp,1333.7bp) {\TT (KCl + oligo)};

\node[anchor=base west, inner sep=0] at (83bp,1124.7bp) {\TT hTelo 21-TTA};
\node[anchor=base west, inner sep=0] at (236bp,1124.7bp) {\TT GGGTTAGGGTTAGGGTTAGGG};
\node[anchor=base west, inner sep=0] at (582bp,1124.7bp) {\TT (KCl + oligo)};

\node[anchor=base west, inner sep=0] at (82bp,928.7bp) {\TT cMyc Pu27};
\node[anchor=base west, inner sep=0] at (201bp,928.7bp) {\TT GGGGAGGGTGGGGAGGGTGGGGAAGG};
\node[anchor=base west, inner sep=0] at (647bp,928.7bp) {\TT (KCl + Oligo)};

\node[anchor=base west, inner sep=0] at (80bp,735.3bp) {\BA};
\node[anchor=base west, inner sep=0] at (177bp,734.7bp) {\TT GGGGGGGGGGGGGCGGG};
\node[anchor=base west, inner sep=0] at (481bp,734.7bp) {\TT (KCl + Oligo)};

\node[anchor=base west, inner sep=0] at (80bp,536bp) {\BA};
\node[anchor=base west, inner sep=0] at (177bp,536.3bp) {\TT GGGGGGGGGGGGGCGG};
\node[anchor=base west, inner sep=0] at (470bp,536.3bp) {\TT (KCl only)};

\node[anchor=base west, inner sep=0] at (80bp,338.7bp) {\BA};
\node[anchor=base west, inner sep=0] at (172bp,338.7bp) {\tfont\bfseries\fontsize{18}{20}\selectfont GGGGGGGGGGGGGCGG};
\node[anchor=base west, inner sep=0] at (425bp,338.7bp) {\tfont\bfseries\fontsize{19.4}{22}\selectfont (LiCl + oligo)};

\node[anchor=base west, inner sep=0] at (78bp,140.3bp) {\TT cMyc Pu27};
\node[anchor=base west, inner sep=0] at (205bp,140.3bp) {\TT GGGGAGGGTGGGGAGGGTGGGGAAGG};
\node[anchor=base west, inner sep=0] at (650bp,140.3bp) {\TT (LiCl + oligo)};

\node[rotate=90, inner sep=0] at (23bp,867bp) {\TT extension (µm)};
\node[rotate=90, inner sep=0] at (23bp,290bp) {\TT extension (µm)};
\node[inner sep=0] at (507bp,584bp) {\TT time (seconds)};
\node[inner sep=0] at (507bp,12bp) {\TT time (seconds)};
\end{tikzpicture}
\end{document}
